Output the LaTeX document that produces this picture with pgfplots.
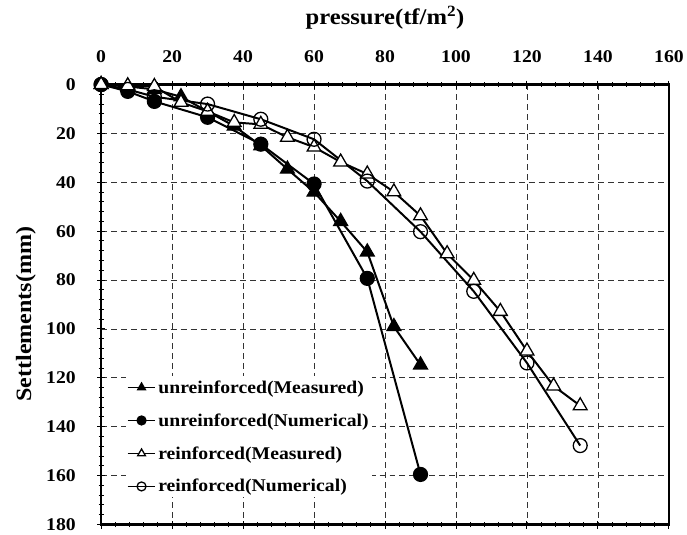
\documentclass[border=0pt]{standalone}
\usepackage{fontspec}
\setmainfont{Liberation Serif}[FakeStretch=1.1]
\usepackage{pgfplots}
\pgfplotsset{compat=1.18}

\begin{document}
\begin{tikzpicture}
\begin{axis}[
    name=ax,
    width=571pt, height=442.5pt, scale only axis,
    xmin=0, xmax=160, ymin=0, ymax=180,
    y dir=reverse,
    xtick={0,20,...,160}, ytick={0,20,...,180},
    minor x tick num=4, minor y tick num=4,
    xtick pos=both, ytick pos=left,
    xticklabel pos=upper,
    tick align=center,
    major tick length=8pt, minor tick length=5pt,
    tick style={black, line width=1pt},
    axis line style={line width=2.4pt},
    grid=major,
    major grid style={dash pattern=on 6pt off 4pt, line width=0.9pt, black!80},
    tick label style={font=\fontsize{18}{20}\selectfont\bfseries,
        /pgf/number format/assume math mode=true},
    xticklabel style={yshift=14pt},
    yticklabel style={xshift=-18pt},
    xlabel={pressure(tf/m\textsuperscript{2})},
    xlabel style={font=\fontsize{22.5}{26}\selectfont\bfseries,
        at={(axis description cs:0.5,1.1514)}, anchor=center},
    ylabel={Settlements(mm)},
    ylabel style={font=\fontsize{22}{26}\selectfont\bfseries,
        at={(axis description cs:-0.1326,0.478)}, anchor=center},
    legend style={at={(0.043,0.337)}, anchor=north west, draw=none, fill=white,
        font=\fontsize{18}{20}\selectfont\bfseries, row sep=15pt,
        inner xsep=1pt, inner ysep=2pt},
    legend cell align=left,
    legend image code/.code={
        \draw[mark repeat=2, mark phase=2, #1, mark size=4.5pt, line width=1.8pt]
        plot coordinates {(0pt,0pt) (14pt,0pt) (28pt,0pt)};
    },
]
\addplot[black, line width=2pt, mark=triangle*, mark size=8pt,
    mark options={solid, fill=black, line width=1.3pt}] coordinates {
    (0,0) (7.5,0.8) (15,2) (22.5,5) (30,11) (37.5,17) (45,25) (52.5,34.6)
    (60,44) (67.5,56) (75,68.5) (82.5,99) (90,114.7)
};
\addlegendentry{unreinforced(Measured)}
\addplot[black, line width=2pt, mark=*, mark size=7pt,
    mark options={solid, fill=black, line width=1.3pt}] coordinates {
    (0,0) (7.5,2.8) (15,6.9) (30,13.4) (45,24.4) (60,40.7) (75,79.3) (90,159.5)
};
\addlegendentry{unreinforced(Numerical)}
\addplot[black, line width=2pt, mark=triangle*, mark size=8pt,
    mark options={solid, fill=white, line width=1.3pt}] coordinates {
    (0,0) (7.5,0.5) (15,0.8) (22.5,7.3) (30,11) (37.5,15.5) (45,16.3)
    (52.5,21.6) (60,25.6) (67.5,31.7) (75,36.6) (82.5,43.9) (90,53.7)
    (97.5,69.2) (105,80.1) (112.5,92.8) (120,109) (127.5,123.3) (135,131.4)
};
\addlegendentry{reinforced(Measured)}
\addplot[black, line width=2pt, mark=o, mark size=7pt,
    mark options={solid, fill=white, line width=1.3pt}] coordinates {
    (0,0) (7.5,2) (15,5) (30,8) (45,14.2) (60,22.4) (75,39.5) (90,60.2)
    (105,84.6) (120,113.9) (135,147.7)
};
\addlegendentry{reinforced(Numerical)}
\end{axis}
\path ([xshift=-101.7pt,yshift=-10.5pt]ax.south west)
    rectangle ([xshift=14pt,yshift=85pt]ax.north east);
\end{tikzpicture}
\end{document}
